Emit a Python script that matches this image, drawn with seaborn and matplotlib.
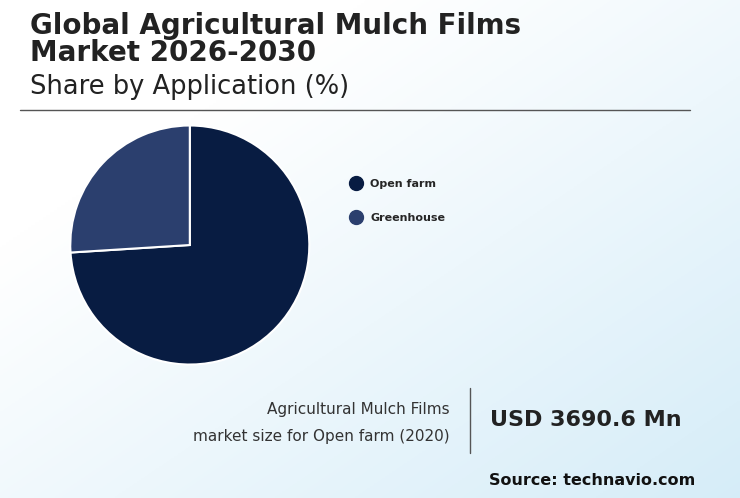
import matplotlib.pyplot as plt
from matplotlib.lines import Line2D
import numpy as np
import seaborn as sns

sns.set_style("white")
plt.rcParams['font.family'] = ['DejaVu Sans']

labels = ['Open farm', 'Greenhouse']
shares = [74, 26]
colors = ['#081c42', '#2b3f6e']

fig = plt.figure(figsize=(7.4, 4.98), dpi=100)

# background gradient: white top-left to light blue bottom-right
bg = fig.add_axes([0, 0, 1, 1])
xx, yy = np.meshgrid(np.linspace(0, 1, 200), np.linspace(1, 0, 200))
g = np.clip((xx * 0.6 + (1 - yy) * 0.6) - 0.3, 0, 1)
img = np.dstack([1 - 0.18 * g, 1 - 0.08 * g, 1 - 0.03 * g])
bg.imshow(img, extent=[0, 1, 0, 1], aspect='auto')
bg.axis('off')

fig.text(0.04, 0.975, 'Global Agricultural Mulch Films\nMarket 2026-2030', fontsize=20,
         fontweight='bold', color='#222222', va='top', linespacing=0.92)
fig.text(0.04, 0.80, 'Share by Application (%)', fontsize=18.5, color='#222222', va='bottom')
fig.add_artist(plt.Line2D([0.027, 0.932], [0.78, 0.78], color='#555555', lw=1))

ax = fig.add_axes([0.054, 0.208, 0.405, 0.6])
ax.pie(shares, colors=colors, startangle=90, counterclock=False,
       wedgeprops=dict(edgecolor='white', linewidth=1.5))
ax.set_aspect('equal')
handles = [Line2D([], [], marker='o', ls='', markersize=10, color=c) for c in colors]
fig.legend(handles, labels, loc='upper left', bbox_to_anchor=(0.452, 0.66), frameon=False,
           handletextpad=0.3, labelspacing=2.1, prop={'weight': 'bold', 'size': 8})

fig.text(0.608, 0.15, 'Agricultural Mulch Films\nmarket size for Open farm (2020)',
         ha='right', va='center', fontsize=11, color='#333333', linespacing=2.0)
fig.add_artist(plt.Line2D([0.635, 0.635], [0.09, 0.22], color='#555555', lw=1))
fig.text(0.662, 0.157, 'USD 3690.6 Mn', fontsize=16, fontweight='bold', color='#222222', va='center')
fig.text(0.94, 0.035, 'Source: technavio.com', fontsize=11.5, fontweight='bold',
         color='#111111', ha='right', va='center')

fig.savefig('out.png', dpi=100)
